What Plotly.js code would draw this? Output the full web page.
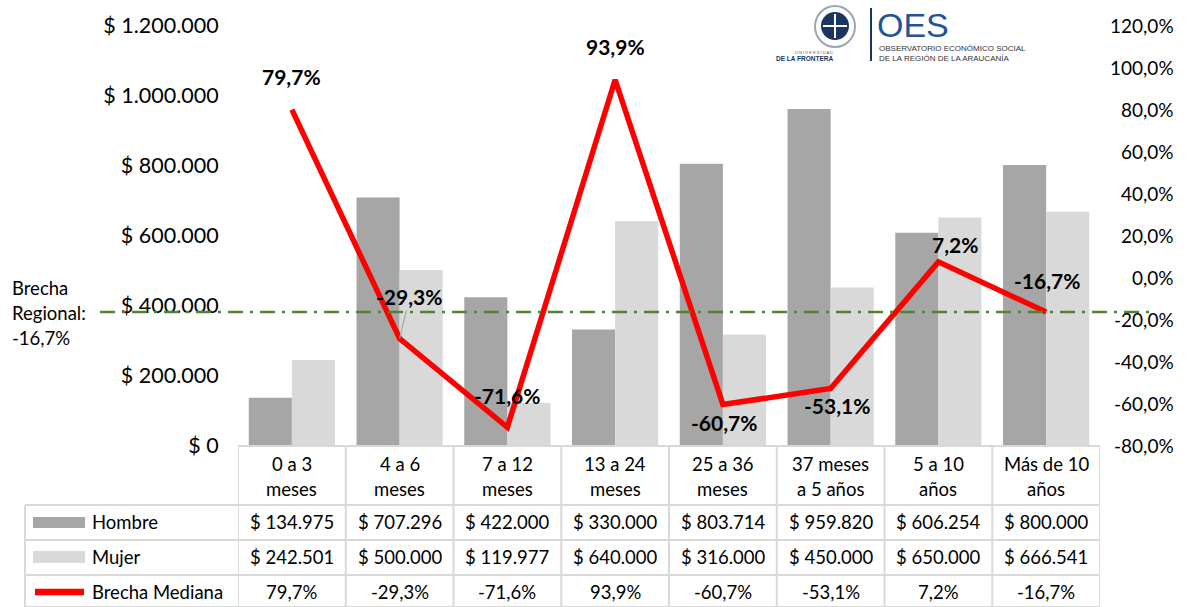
<!DOCTYPE html>
<html><head><meta charset="utf-8">
<script src="https://cdn.plot.ly/plotly-3.0.1.min.js"></script>
<style>html,body{margin:0;padding:0;background:#fff;}#chart{width:1199px;height:607px;}</style>
</head><body><div id="chart"></div>
<script>
const categories = ["0 a 3<br>meses","4 a 6<br>meses","7 a 12<br>meses","13 a 24<br>meses","25 a 36<br>meses","37 meses<br>a 5 años","5 a 10<br>años","Más de 10<br>años"];
const hombre = [134975,707296,422000,330000,803714,959820,606254,800000];
const mujer  = [242501,500000,119977,640000,316000,450000,650000,666541];
const brecha = [79.7,-29.3,-71.6,93.9,-60.7,-53.1,7.2,-16.7];
const brechaRegional = -16.7;
const leftTicks = [0,200000,400000,600000,800000,1000000,1200000];
const rightTicks = [-80,-60,-40,-20,0,20,40,60,80,100,120];
const seriesNames = ["Hombre","Mujer","Brecha Mediana"];

const money = v => "$ " + String(v).replace(/\B(?=(\d{3})+(?!\d))/g, ".");
const pct = v => v.toFixed(1).replace(".", ",") + "%";

// layout helpers (pixel -> paper)
const L=238, R=1100, T=25, B=445;
const px = x => (x-L)/(R-L);
const py = y => (B-y)/(B-T);
const FONT = "Lato, 'Liberation Sans', sans-serif";
const gridCol = "#d9d9d9";

const traces = [
  {type:"bar", x:categories, y:hombre, name:seriesNames[0], marker:{color:"#a6a6a6"}, hoverinfo:"skip"},
  {type:"bar", x:categories, y:mujer, name:seriesNames[1], marker:{color:"#d9d9d9"}, hoverinfo:"skip"},
  {type:"scatter", mode:"lines", x:categories, y:brecha, yaxis:"y2", name:seriesNames[2],
   line:{color:"#ff0000", width:5.5}, hoverinfo:"skip"}
];

const shapes = [];
const annotations = [];
const n = categories.length;

// regional gap line
shapes.push({type:"line", xref:"paper", yref:"y2", x0:px(100), x1:px(1156), y0:brechaRegional, y1:brechaRegional,
  line:{color:"#548235", width:2.5, dash:"15px,7px,3px,7px"}});

// table lines
const rowY = [505, 540, 575, 607];
shapes.push({type:"line", xref:"paper", yref:"paper", x0:px(L), x1:px(R), y0:py(446), y1:py(446), line:{color:gridCol,width:2}});
rowY.forEach(yy=>{
  shapes.push({type:"line", xref:"paper", yref:"paper", x0:px(25), x1:px(R), y0:py(yy), y1:py(yy), line:{color:gridCol,width:2}});
});
for (let i=0;i<=n;i++){
  shapes.push({type:"line", xref:"x", yref:"paper", x0:i-0.5, x1:i-0.5, y0:py(446), y1:py(607), line:{color:gridCol,width:2}});
}
shapes.push({type:"line", xref:"paper", yref:"paper", x0:px(25), x1:px(25), y0:py(505), y1:py(607), line:{color:gridCol,width:2}});

// legend swatches in table
shapes.push({type:"rect", xref:"paper", yref:"paper", x0:px(33), x1:px(85), y0:py(528), y1:py(517), line:{width:0}, fillcolor:"#a6a6a6"});
shapes.push({type:"rect", xref:"paper", yref:"paper", x0:px(33), x1:px(85), y0:py(563), y1:py(551), line:{width:0}, fillcolor:"#d9d9d9"});
shapes.push({type:"line", xref:"paper", yref:"paper", x0:px(35), x1:px(84), y0:py(592), y1:py(592), line:{color:"#ff0000", width:6.5}});

const tblFont = {family:FONT, size:18.5, color:"#000"};
const rowCenters = [522, 557, 592];
seriesNames.forEach((s,k)=>{
  annotations.push({xref:"paper", yref:"paper", x:px(90), y:py(rowCenters[k]), text:s, showarrow:false, xanchor:"left", yanchor:"middle", font:tblFont});
});
categories.forEach((c,i)=>{
  const parts = c.split("<br>");
  annotations.push({xref:"x", yref:"paper", x:c, y:py(464), text:parts[0], showarrow:false, yanchor:"middle", font:tblFont});
  annotations.push({xref:"x", yref:"paper", x:c, y:py(489), text:parts[1], showarrow:false, yanchor:"middle", font:tblFont});
  annotations.push({xref:"x", yref:"paper", x:c, y:py(rowCenters[0]), text:money(hombre[i]), showarrow:false, yanchor:"middle", font:tblFont});
  annotations.push({xref:"x", yref:"paper", x:c, y:py(rowCenters[1]), text:money(mujer[i]), showarrow:false, yanchor:"middle", font:tblFont});
  annotations.push({xref:"x", yref:"paper", x:c, y:py(rowCenters[2]), text:pct(brecha[i]), showarrow:false, yanchor:"middle", font:tblFont});
});

// data labels on line
const labelOffsets = [[0,-33],[10,-42],[0,-32],[0,-33],[2,18],[7,17],[17,-17],[1,-32]];
brecha.forEach((v,i)=>{
  const lead = i===1;
  annotations.push({xref:"x", yref:"y2", x:categories[i], y:v, text:"<b>"+pct(v)+"</b>", showarrow:true,
    ax:labelOffsets[i][0], ay:labelOffsets[i][1], arrowhead:0, arrowwidth:1.2,
    arrowcolor: lead ? "#a6a6a6" : "rgba(0,0,0,0)", standoff:0,
    font:{family:FONT, size:21, color:"#000"}});
});

// right axis labels (right aligned)
rightTicks.forEach(t=>{
  annotations.push({xref:"paper", yref:"y2", x:px(1176), y:t, text:pct(t), showarrow:false, xanchor:"right", yanchor:"middle",
    font:{family:FONT, size:19, color:"#000"}});
});

// regional gap text
annotations.push({xref:"paper", yref:"paper", x:px(10), y:py(288), text:"Brecha", showarrow:false, xanchor:"left", yanchor:"middle", font:tblFont});
annotations.push({xref:"paper", yref:"paper", x:px(10), y:py(313), text:"Regional:", showarrow:false, xanchor:"left", yanchor:"middle", font:tblFont});
annotations.push({xref:"paper", yref:"paper", x:px(10), y:py(338), text:pct(brechaRegional), showarrow:false, xanchor:"left", yanchor:"middle", font:tblFont});

// logo
shapes.push({type:"circle", xref:"paper", yref:"paper", x0:px(815), x1:px(855), y0:py(47), y1:py(6), line:{color:"#9aa6b8", width:2}, fillcolor:"#ffffff"});
shapes.push({type:"circle", xref:"paper", yref:"paper", x0:px(821), x1:px(849), y0:py(40), y1:py(12), line:{width:0}, fillcolor:"#1b3563"});
shapes.push({type:"line", xref:"paper", yref:"paper", x0:px(835), x1:px(835), y0:py(14), y1:py(38), line:{color:"#ffffff", width:2}});
shapes.push({type:"line", xref:"paper", yref:"paper", x0:px(823), x1:px(847), y0:py(26), y1:py(26), line:{color:"#ffffff", width:2}});
shapes.push({type:"line", xref:"paper", yref:"paper", x0:px(871), x1:px(871), y0:py(8), y1:py(61), line:{color:"#1b3563", width:2}});
annotations.push({xref:"paper", yref:"paper", x:px(835), y:py(52), text:"U N I V E R S I D A D", showarrow:false, yanchor:"middle", font:{family:"Liberation Sans", size:4, color:"#555"}});
annotations.push({xref:"paper", yref:"paper", x:px(835), y:py(58), text:"<b>DE LA FRONTERA</b>", showarrow:false, yanchor:"middle", font:{family:"Liberation Sans Narrow, Liberation Sans", size:6.5, color:"#1b3563"}});
annotations.push({xref:"paper", yref:"paper", x:px(875), y:py(25), text:"OES", showarrow:false, xanchor:"left", yanchor:"middle", font:{family:"Liberation Sans", size:34, color:"#1f5597"}});
annotations.push({xref:"paper", yref:"paper", x:px(877), y:py(48), text:"OBSERVATORIO ECONÓMICO SOCIAL", showarrow:false, xanchor:"left", yanchor:"middle", font:{family:"Liberation Sans", size:8, color:"#333"}});
annotations.push({xref:"paper", yref:"paper", x:px(877), y:py(58), text:"DE LA REGIÓN DE LA ARAUCANÍA", showarrow:false, xanchor:"left", yanchor:"middle", font:{family:"Liberation Sans", size:8, color:"#333"}});

const layout = {
  width:1199, height:607,
  margin:{l:L, r:1199-R, t:T, b:607-B, pad:0},
  paper_bgcolor:"#fff", plot_bgcolor:"#fff",
  showlegend:false,
  barmode:"group", bargap:0.2, bargroupgap:0,
  font:{family:FONT, color:"#000"},
  xaxis:{showticklabels:false, showgrid:false, zeroline:false, showline:false, ticks:"", range:[-0.5, n-0.5], fixedrange:true},
  yaxis:{range:[0,1200000], tickvals:leftTicks, ticktext:leftTicks.map(money), showgrid:false, zeroline:false, showline:false,
    ticks:"outside", ticklen:14, tickcolor:"rgba(0,0,0,0)", tickfont:{family:FONT, size:21.5, color:"#000"}},
  yaxis2:{range:[-80,120], overlaying:"y", side:"right", showticklabels:false, showgrid:false, zeroline:false, showline:false, ticks:""},
  shapes:shapes, annotations:annotations
};
Plotly.newPlot("chart", traces, layout, {displayModeBar:false, staticPlot:true});
</script></body></html>
